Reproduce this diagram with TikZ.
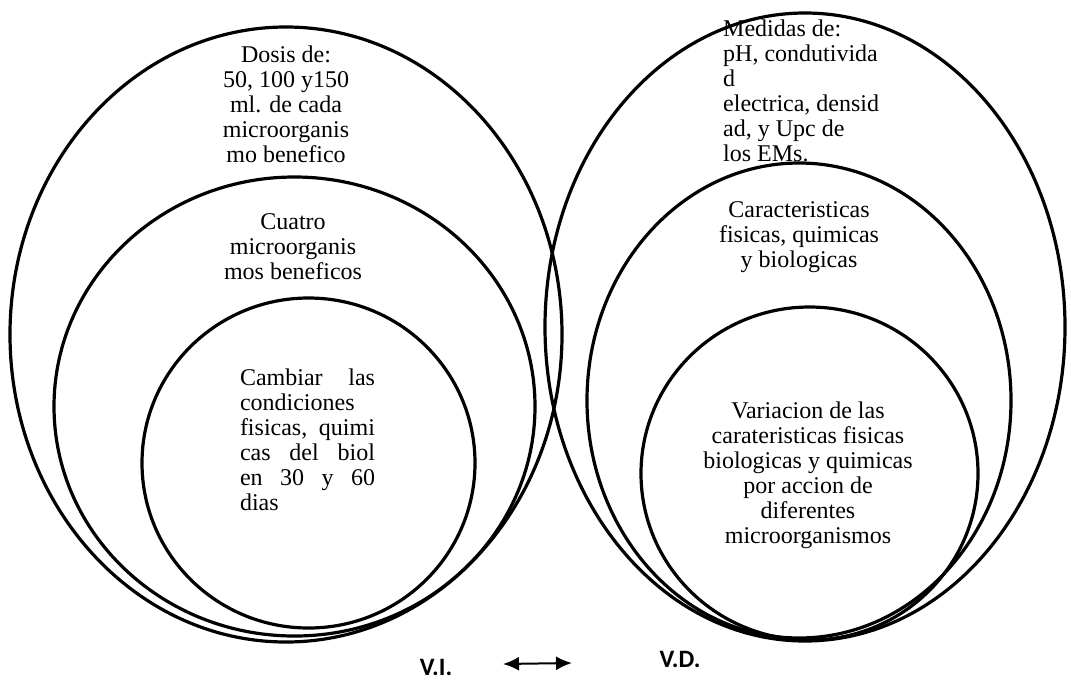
\documentclass[tikz,border=0pt]{standalone}
\usepackage{fontspec}
\setmainfont{Liberation Serif}
\newfontfamily\labelfont{Carlito}
\usetikzlibrary{shapes.geometric,arrows.meta}

\begin{document}
\begin{tikzpicture}[
    x=1pt, y=-1pt,
    ring/.style 2 args={ellipse, draw, line width=3.2pt, inner sep=0pt, minimum width=#1, minimum height=#2},
    txt/.style={font=\fontsize{24}{25}\selectfont, align=center, inner sep=0pt},
    var/.style={font=\labelfont\bfseries\fontsize{25}{27}\selectfont, inner sep=0pt}
]
\useasboundingbox (0,0) rectangle (1071,681);

% Independent variable - nested ellipses
\node[ring={552pt}{615pt}] (viout) at (286,334.5) {};
\node[ring={481pt}{459pt}] (vimid) at (294.5,406.5) {};
\node[ring={333pt}{330pt}] (viin) at (308.5,463) {};

% Dependent variable - nested ellipses
\node[ring={520pt}{628pt}] (vdout) at (805,327) {};
\node[ring={424pt}{475pt}] (vdmid) at (799,400.5) {};
\node[ring={337pt}{333pt}] (vdin) at (809.5,473.5) {};

% Texts inside the left set
\node[txt] (dosis) at (286,104) {Dosis de:\\50, 100 y150\\ml. de cada\\microorganis\\mo benefico};
\node[txt] (cuatro) at (293,247) {Cuatro\\microorganis\\mos beneficos};
\node[txt, align=justify, text width=135pt] (cambiar) at (307.5,440)
    {Cambiar las\linebreak condiciones\linebreak fisicas, quimi\linebreak cas del biol\linebreak en 30 y 60\linebreak dias};

% Texts inside the right set
\node[txt, align=left, anchor=west] (medidas) at (723,91)
    {Medidas de:\\pH, condutivida\\d\\electrica, densid\\ad, y Upc de\\los EMs.};
\node[txt] (caract) at (799,237) {Caracteristicas\\fisicas, quimicas\\y biologicas};
\node[txt] (variacion) at (808,475) {Variacion de las\\carateristicas fisicas\\biologicas y quimicas\\por accion de\\diferentes\\microorganismos};

% Variables and the relation between them
\node[var] (vi) at (436,667) {V.I.};
\node[var] (vd) at (680,659) {V.D.};
\coordinate (arrl) at (503,664);
\coordinate (arrr) at (572,663);
\draw[{Latex[length=16pt,width=14pt]}-{Latex[length=16pt,width=14pt]}, line width=2pt] (arrl) -- (arrr);
\end{tikzpicture}
\end{document}
